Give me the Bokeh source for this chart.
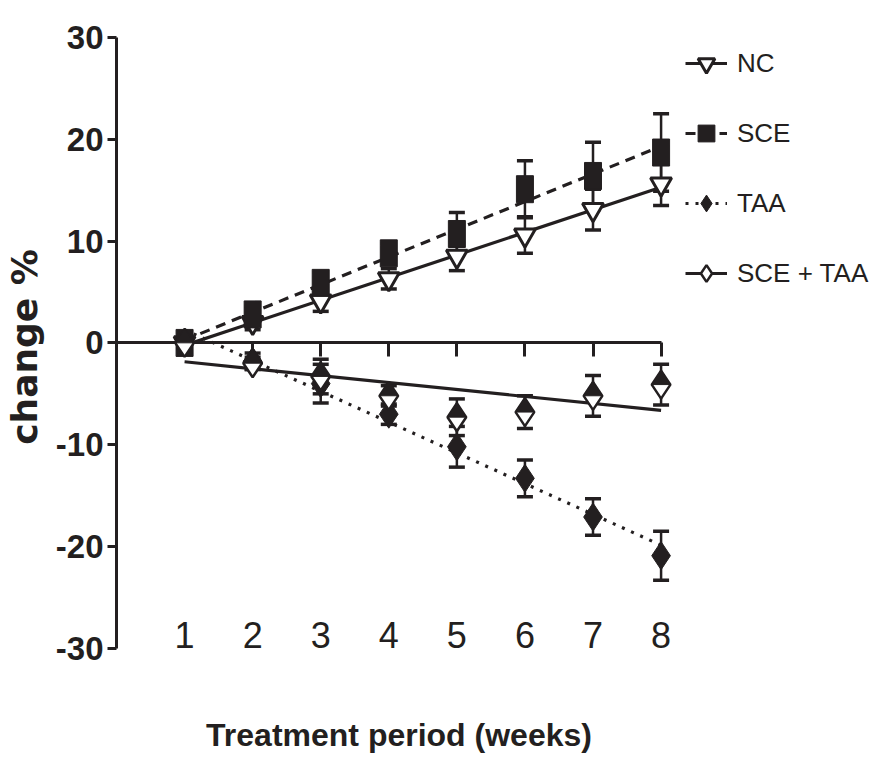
import numpy as np
from bokeh.plotting import figure
from bokeh.models import (Range1d, LinearAxis, FixedTicker, Whisker, TeeHead,
                          ColumnDataSource, Legend, LegendItem)
from bokeh.embed import file_html
from bokeh.resources import INLINE

# ---------------- data ----------------
weeks = [1, 2, 3, 4, 5, 6, 7, 8]
x_tick_labels = ["1", "2", "3", "4", "5", "6", "7", "8"]
y_ticks = [-30, -20, -10, 0, 10, 20, 30]
y_tick_labels = ["-30", "-20", "-10", "0", "10", "20", "30"]

nc = [0.0, 2.0, 4.1, 6.3, 8.5, 10.6, 13.1, 15.6]
nc_err = [0.6, 0.7, 1.0, 1.0, 1.4, 1.8, 2.0, 2.1]

sce = [0.0, 2.8, 5.9, 8.8, 10.7, 15.1, 16.4, 18.7]
sce_err = [0.5, 0.8, 1.0, 1.0, 2.1, 2.8, 3.3, 3.8]

taa = [0.0, -1.8, -4.0, -7.0, -10.2, -13.3, -17.1, -20.9]
taa_err = [0.5, 0.8, 1.9, 1.0, 2.0, 1.8, 1.8, 2.4]

sce_taa = [0.0, -2.0, -3.3, -5.2, -7.3, -6.8, -5.2, -4.1]
sce_taa_err = [0.5, 0.6, 1.7, 1.0, 1.8, 1.6, 2.0, 2.0]

names = ["NC", "SCE", "TAA", "SCE + TAA"]

# ---------------- styling ----------------
INK = "#231f20"
NARROW = "Liberation Sans"
WIDE = "DejaVu Sans"

X0, X1 = 0.0, 8.3
Y0, Y1 = -30.0, 30.0          # axis extent
YR0 = -30.8                   # frame bottom a little below the axis end
FW, FH = 565, 619

p = figure(frame_width=FW, frame_height=FH, output_backend="svg", toolbar_location=None,
           x_range=Range1d(X0, X1), y_range=Range1d(YR0, Y1),
           x_axis_location=None, y_axis_location=None,
           min_border_left=107, min_border_top=37, min_border_right=0,
           min_border_bottom=97)
p.outline_line_color = None
p.xgrid.visible = False
p.ygrid.visible = False
p.background_fill_color = "white"
p.border_fill_color = "white"

# y axis
yax = LinearAxis(ticker=FixedTicker(ticks=y_ticks), bounds=(Y0, Y1),
                 major_label_overrides={t: s for t, s in zip(y_ticks, y_tick_labels)},
                 axis_line_width=3, axis_line_color=INK,
                 major_tick_line_width=3, major_tick_line_color=INK,
                 major_tick_out=9, major_tick_in=0, minor_tick_line_color=None,
                 major_label_text_font=NARROW, major_label_text_font_style="bold",
                 major_label_text_font_size="33px", major_label_text_color=INK,
                 major_label_standoff=4,
                 axis_label="change %", axis_label_text_font=WIDE,
                 axis_label_text_font_style="bold", axis_label_text_font_size="36px",
                 axis_label_text_color=INK, axis_label_standoff=8)
p.add_layout(yax, "left")

# zero line axis with downward ticks (no labels)
zax = LinearAxis(fixed_location=0, ticker=FixedTicker(ticks=weeks), bounds=(X0, weeks[-1]),
                 axis_line_width=3, axis_line_color=INK,
                 major_tick_line_width=3, major_tick_line_color=INK,
                 major_tick_out=14, major_tick_in=0, minor_tick_line_color=None,
                 major_label_text_color=None, level="underlay")
p.add_layout(zax, "below")

# week labels placed near the bottom of the plot
lax = LinearAxis(fixed_location=-27.4, ticker=FixedTicker(ticks=weeks),
                 major_label_overrides={w: t for w, t in zip(weeks, x_tick_labels)},
                 axis_line_color=None, major_tick_line_color=None, minor_tick_line_color=None,
                 major_tick_out=0, major_tick_in=0, major_label_standoff=0,
                 major_label_text_font=NARROW, major_label_text_font_size="36px",
                 major_label_text_color=INK)
p.add_layout(lax, "below")

# axis title below
tax = LinearAxis(ticker=FixedTicker(ticks=[]), axis_line_color=None,
                 major_tick_line_color=None, minor_tick_line_color=None,
                 major_tick_out=0, major_tick_in=0, major_label_standoff=0,
                 axis_label="Treatment period (weeks)", axis_label_text_font=NARROW,
                 axis_label_text_font_style="bold", axis_label_text_font_size="32px",
                 axis_label_text_color=INK, axis_label_standoff=60)
p.add_layout(tax, "below")

# error bars
def add_err(vals, errs):
    src = ColumnDataSource(dict(x=weeks, lo=[v - e for v, e in zip(vals, errs)],
                                hi=[v + e for v, e in zip(vals, errs)]))
    w = Whisker(source=src, base="x", upper="hi", lower="lo",
                line_color=INK, line_width=2.5,
                upper_head=TeeHead(size=16, line_width=3.5, line_color=INK),
                lower_head=TeeHead(size=16, line_width=3.5, line_color=INK))
    p.add_layout(w)

for v, e in [(nc, nc_err), (sce, sce_err), (taa, taa_err), (sce_taa, sce_taa_err)]:
    add_err(v, e)

# linear regression lines
fit_x = np.array([weeks[0], weeks[-1]], dtype=float)
def fit_line(vals, dash):
    c = np.polyfit(weeks, vals, 1)
    return p.line(fit_x, np.polyval(c, fit_x), line_color=INK, line_width=3.2, line_dash=dash)

l_nc = fit_line(nc, "solid")
l_sce = fit_line(sce, "10 7")
l_taa = fit_line(taa, "3 7")
l_st = fit_line(sce_taa, "solid")

# markers
m_nc = p.scatter(weeks, nc, marker="inverted_triangle", size=21, fill_color="white",
                 line_color=INK, line_width=3)
m_sce_leg = p.scatter(weeks, sce, marker="square", size=15, fill_color=INK, line_color=INK)
p.rect(weeks, sce, width=17, height=27, width_units="screen", height_units="screen",
       fill_color=INK, line_color=INK)
m_taa = p.scatter(weeks, taa, marker="diamond", size=28, fill_color=INK, line_color=INK,
                  line_width=1)
m_st = p.scatter(weeks, sce_taa, marker="diamond", size=28, fill_color="white",
                 line_color=INK, line_width=2.5)
# filled upper half of the SCE + TAA diamond (triangle lifted a few pixels)
shift = 5.0 * (Y1 - YR0) / FH
p.extra_y_ranges = {"half": Range1d(YR0 - shift, Y1 - shift)}
p.scatter(weeks, sce_taa, marker="triangle", size=17, fill_color=INK, line_color=INK,
          y_range_name="half")

legend = Legend(items=[
    LegendItem(label=names[0], renderers=[l_nc, m_nc]),
    LegendItem(label=names[1], renderers=[l_sce, m_sce_leg]),
    LegendItem(label=names[2], renderers=[l_taa, m_taa]),
    LegendItem(label=names[3], renderers=[l_st, m_st]),
], location="top_left", glyph_width=42, glyph_height=44, spacing=26, padding=10, margin=4,
   label_standoff=10, label_text_font=NARROW, label_text_font_size="26px",
   label_text_color=INK, border_line_color=None, background_fill_alpha=0)
p.add_layout(legend, "right")

open("out.html", "w").write(file_html(p, INLINE))
